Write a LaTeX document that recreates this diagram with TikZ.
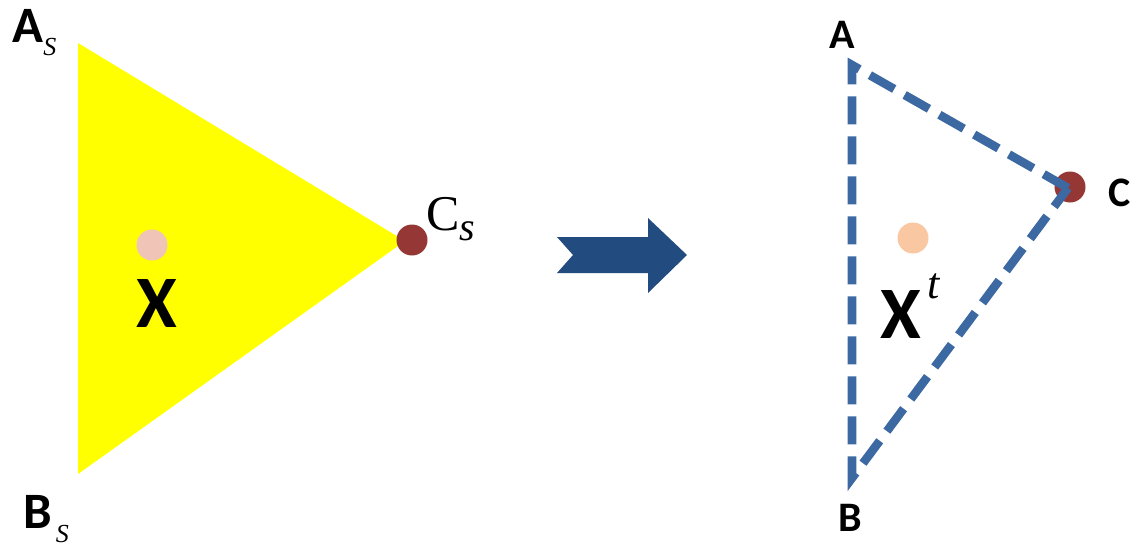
\documentclass[tikz,border=0pt]{standalone}
\usepackage{fontspec}
\setmainfont{Carlito}
\newfontfamily\serifit{Liberation Serif}
\definecolor{fillyellow}{HTML}{FFFF00}
\definecolor{dotred}{HTML}{953735}
\definecolor{pinkdot}{HTML}{F0C4B6}
\definecolor{peachdot}{HTML}{F9C8A2}
\definecolor{edgeblue}{HTML}{3D69A3}
\definecolor{arrowblue}{HTML}{224B80}

\begin{document}
\begin{tikzpicture}[x=0.5pt, y=-0.5pt,
    dot/.style={circle, inner sep=0pt, minimum size=15.5pt},
    bigl/.style={font=\fontsize{25.5}{25.5}\selectfont\bfseries, inner sep=0pt},
    smalll/.style={font=\fontsize{21}{21}\selectfont\bfseries, inner sep=0pt},
    xl/.style={font=\fontsize{37}{37}\selectfont\bfseries, inner sep=0pt},
    dashedge/.style={edgeblue, line width=4.3pt, dash pattern=on 14pt off 6pt}]
    \useasboundingbox (0,0) rectangle (1130,546);
    % source triangle
    \coordinate (As) at (78,43);
    \coordinate (Bs) at (78,474);
    \coordinate (Cs) at (405,241);
    \fill[fillyellow] (As) -- (Cs) -- (Bs) -- cycle;
    \node[dot, fill=dotred] (cs) at (412,240) {};
    \node[dot, fill=pinkdot] (xs) at (152,245) {};
    \node[xl] (xlbl) at (157,304) {X};
    \node[bigl, anchor=base west] (lblAs) at (12,42) {A\raisebox{-6.5pt}{\fontsize{13}{13}\selectfont\serifit\itshape\mdseries S}};
    \node[bigl, anchor=base west] (lblBs) at (23,528) {B\hspace{2pt}\raisebox{-7pt}{\fontsize{13}{13}\selectfont\serifit\itshape\mdseries S}};
    \node[inner sep=0pt, anchor=base west, font=\fontsize{25}{25}\selectfont\serifit] (lblCs) at (426,230) {C\raisebox{-5pt}{\fontsize{20}{20}\selectfont\itshape s}};
    % arrow
    \fill[arrowblue] (557,237) -- (648,237) -- (648,218) -- (687,255) -- (648,293)
        -- (648,273) -- (557,273) -- (573,255) -- cycle;
    % target triangle
    \coordinate (A) at (852,65);
    \coordinate (B) at (852,478);
    \coordinate (C) at (1068,188);
    \node[dot, fill=dotred] (c) at (1070,187) {};
    \draw[dashedge] (C) -- (A) -- (B) -- (C);
    \node[dot, fill=peachdot] (xt) at (913,238) {};
    \node[xl, anchor=base west] (xtlbl) at (880,338) {X\hspace{3pt}\raisebox{20pt}{\fontsize{22}{22}\selectfont\serifit\itshape\mdseries t}};
    \node[smalll] (lblA) at (842,35) {A};
    \node[smalll] (lblB) at (850,518) {B};
    \node[smalll] (lblC) at (1120,193) {C};
\end{tikzpicture}
\end{document}
